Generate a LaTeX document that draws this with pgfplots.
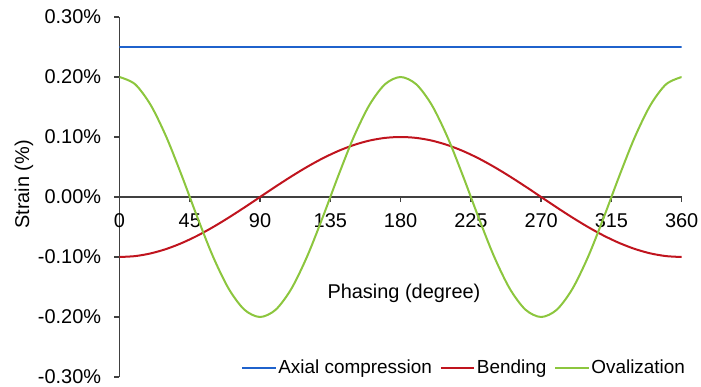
\documentclass[border=0pt]{standalone}
\usepackage{pgfplots}
\pgfplotsset{compat=1.18}
\usepackage{fontspec}
\setmainfont{Liberation Sans}

\definecolor{axialblue}{RGB}{31,98,204}
\definecolor{bendred}{RGB}{192,20,30}
\definecolor{ovalgreen}{RGB}{140,198,62}
\definecolor{axisgray}{RGB}{64,64,64}

% strain components (in %) against phasing angle (degree)
\pgfplotstableread{
deg  axial  bending  ovalization
0    0.25   -0.1000   0.2000
10   0.25   -0.0985   0.1879
20   0.25   -0.0940   0.1532
30   0.25   -0.0866   0.1000
40   0.25   -0.0766   0.0347
50   0.25   -0.0643  -0.0347
60   0.25   -0.0500  -0.1000
70   0.25   -0.0342  -0.1532
80   0.25   -0.0174  -0.1879
90   0.25    0.0000  -0.2000
100  0.25    0.0174  -0.1879
110  0.25    0.0342  -0.1532
120  0.25    0.0500  -0.1000
130  0.25    0.0643  -0.0347
140  0.25    0.0766   0.0347
150  0.25    0.0866   0.1000
160  0.25    0.0940   0.1532
170  0.25    0.0985   0.1879
180  0.25    0.1000   0.2000
190  0.25    0.0985   0.1879
200  0.25    0.0940   0.1532
210  0.25    0.0866   0.1000
220  0.25    0.0766   0.0347
230  0.25    0.0643  -0.0347
240  0.25    0.0500  -0.1000
250  0.25    0.0342  -0.1532
260  0.25    0.0174  -0.1879
270  0.25    0.0000  -0.2000
280  0.25   -0.0174  -0.1879
290  0.25   -0.0342  -0.1532
300  0.25   -0.0500  -0.1000
310  0.25   -0.0643  -0.0347
320  0.25   -0.0766   0.0347
330  0.25   -0.0866   0.1000
340  0.25   -0.0940   0.1532
350  0.25   -0.0985   0.1879
360  0.25   -0.1000   0.2000
}\straindata

\begin{document}
\begin{tikzpicture}
\begin{axis}[
  scale only axis,
  width=281.1bp, height=180bp,
  at={(0,0)}, anchor=south west,
  xmin=0, xmax=360, ymin=-0.3, ymax=0.3,
  axis x line=middle,
  axis y line=left,
  axis line style={-, draw=axisgray, line width=0.75bp},
  hide obscured x ticks=false,
  font=\fontsize{10}{12}\selectfont,
  xtick={0,45,...,360},
  xticklabels={0,45,90,135,180,225,270,315,360},
  ytick={-0.3,-0.2,-0.1,0,0.1,0.2,0.3},
  yticklabels={-0.30\%,-0.20\%,-0.10\%,0.00\%,0.10\%,0.20\%,0.30\%},
  tick align=outside,
  major tick length=2.5bp,
  tick style={draw=axisgray, line width=0.75bp},
  xticklabel style={anchor=north, inner sep=0pt, yshift=-5.5bp},
  yticklabel style={anchor=east, inner sep=0pt, xshift=-6.5bp},
  xlabel={Phasing (degree)},
  ylabel={Strain (\%)},
  every axis x label/.style={at={(rel axis cs:0.506,0.233)}, anchor=center},
  every axis y label/.style={at={(rel axis cs:0,0.535)}, rotate=90, anchor=center, yshift=47.75bp},
  legend columns=3,
  legend style={at={(rel axis cs:1,0)}, anchor=east, xshift=2.65bp, yshift=4.5bp,
    draw=none, fill=none, inner sep=0pt,
    nodes={inner sep=0.8bp, font=\fontsize{9.5}{11}\selectfont},
    /tikz/every even column/.append style={column sep=3.2bp}},
  legend image code/.code={\draw[#1] (0bp,0bp) -- (16.7bp,0bp);},
  every axis plot/.append style={line width=1bp},
]
\addplot[axialblue] table[x=deg, y=axial] {\straindata};
\addplot[bendred, smooth] table[x=deg, y=bending] {\straindata};
\addplot[ovalgreen, smooth] table[x=deg, y=ovalization] {\straindata};
\legend{Axial compression, Bending, Ovalization}
\end{axis}
\pgfresetboundingbox
\path (-59.75bp,-5bp) rectangle (290.75bp,188.5bp);
\end{tikzpicture}
\end{document}
